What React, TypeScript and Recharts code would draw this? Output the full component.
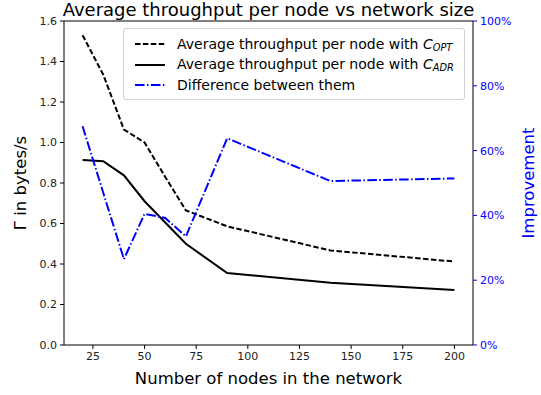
import React from 'react';
import {
  LineChart,
  Line,
  XAxis,
  YAxis,
  ReferenceLine,
  Customized,
} from 'recharts';

const nodes = [20, 30, 40, 50, 60, 70, 90, 140, 200];
const throughputOpt = [1.53, 1.335, 1.064, 1.0, 0.83, 0.665, 0.586, 0.467, 0.412];
const throughputAdr = [0.914, 0.908, 0.838, 0.71, 0.605, 0.5, 0.355, 0.308, 0.272];
const improvement = [67.5, 47.0, 26.5, 40.5, 39.2, 33.5, 63.8, 50.6, 51.4];

const xTicks = [25, 50, 75, 100, 125, 150, 175, 200];
const leftTicks = [0, 0.2, 0.4, 0.6, 0.8, 1.0, 1.2, 1.4, 1.6];
const rightTicks = [0, 20, 40, 60, 80, 100];

const titleText = 'Average throughput per node vs network size';
const xLabel = 'Number of nodes in the network';
const leftLabel = 'Γ in bytes/s';
const rightLabel = 'Improvement';

const data = nodes.map((n, i) => ({
  n,
  opt: throughputOpt[i],
  adr: throughputAdr[i],
  diff: improvement[i],
}));

const FONT = '"DejaVu Sans", sans-serif';
const BLUE = '#0000ff';

const W = 541;
const H = 395;
const PLOT_LEFT = 64;
const PLOT_RIGHT = 473;
const PLOT_TOP = 21;
const PLOT_BOTTOM = 345;

const Title = () => (
  <text
    x={(PLOT_LEFT + PLOT_RIGHT) / 2}
    y={16}
    textAnchor="middle"
    fontFamily={FONT}
    fontSize={18}
    fill="#000"
  >
    {titleText}
  </text>
);

const AxisLabels = () => (
  <g fontFamily={FONT}>
    <text
      x={(PLOT_LEFT + PLOT_RIGHT) / 2}
      y={384}
      textAnchor="middle"
      fontSize={16.5}
      fill="#000"
    >
      {xLabel}
    </text>
    <text
      x={0}
      y={0}
      transform={`translate(26, ${(PLOT_TOP + PLOT_BOTTOM) / 2}) rotate(-90)`}
      textAnchor="middle"
      fontSize={16.5}
      fill="#000"
    >
      {leftLabel}
    </text>
    <text
      x={0}
      y={0}
      transform={`translate(534, ${(PLOT_TOP + PLOT_BOTTOM) / 2}) rotate(-90)`}
      textAnchor="middle"
      fontSize={16.5}
      fill={BLUE}
    >
      {rightLabel}
    </text>
  </g>
);

const Sub = ({ s }: { s: string }) => (
  <span style={{ fontStyle: 'italic' }}>
    C
    <span style={{ fontSize: '0.7em', verticalAlign: '-0.25em' }}>{s}</span>
  </span>
);

const legendRows = [
  { label: <>Average throughput per node with <Sub s="OPT" /></>, color: '#000', dash: '5.5 2.4' },
  { label: <>Average throughput per node with <Sub s="ADR" /></>, color: '#000', dash: undefined },
  { label: <>Difference between them</>, color: BLUE, dash: '9.6 2.4 1.5 2.4' },
];

const LegendBox = () => (
  <div
    style={{
      position: 'absolute',
      left: 123,
      top: 28,
      width: 342,
      height: 72,
      background: 'rgba(255,255,255,0.8)',
      border: '1px solid #d0d0d0',
      borderRadius: 3,
      boxSizing: 'border-box',
      padding: '5px 0 0 11px',
      fontFamily: FONT,
      fontSize: 14,
      color: '#000',
    }}
  >
    {legendRows.map((r, i) => (
      <div key={i} style={{ display: 'flex', alignItems: 'center', height: 20.5 }}>
        <svg width={30} height={10} style={{ marginRight: 12 }}>
          <line x1={0} y1={5} x2={30} y2={5} stroke={r.color} strokeWidth={2} strokeDasharray={r.dash} />
        </svg>
        <span style={{ whiteSpace: 'nowrap' }}>{r.label}</span>
      </div>
    ))}
  </div>
);

export default function App() {
  return (
    <div style={{ position: 'absolute', left: 0, top: 0, width: W, height: H, background: '#fff' }}>
      <LineChart
        width={W}
        height={H}
        data={data}
        margin={{ top: PLOT_TOP, right: W - PLOT_RIGHT - 50, bottom: H - PLOT_BOTTOM - 30, left: PLOT_LEFT - 45 }}
      >
        <XAxis
          dataKey="n"
          type="number"
          domain={[11, 209]}
          ticks={xTicks}
          allowDataOverflow
          height={30}
          tickSize={4}
          tickMargin={3}
          stroke="#000"
          tick={{ fill: '#222', fontSize: 11, fontFamily: FONT }}
          tickLine={{ stroke: '#000' }}
        />
        <YAxis
          yAxisId="left"
          domain={[0, 1.6]}
          ticks={leftTicks}
          width={45}
          tickSize={4}
          tickMargin={3}
          stroke="#000"
          tickFormatter={(v: number) => v.toFixed(1)}
          tick={{ fill: '#222', fontSize: 11, fontFamily: FONT }}
          tickLine={{ stroke: '#000' }}
        />
        <YAxis
          yAxisId="right"
          orientation="right"
          domain={[0, 100]}
          ticks={rightTicks}
          width={50}
          tickSize={4}
          tickMargin={3}
          axisLine={{ stroke: '#000' }}
          tickFormatter={(v: number) => `${v}%`}
          tick={{ fill: BLUE, fontSize: 11, fontFamily: FONT }}
          tickLine={{ stroke: BLUE }}
        />
        <ReferenceLine yAxisId="left" y={1.6} stroke="#000" strokeWidth={1} />
        <Line
          yAxisId="left"
          dataKey="opt"
          stroke="#000"
          strokeWidth={2}
          strokeDasharray="5.5 2.4"
          dot={false}
          isAnimationActive={false}
        />
        <Line
          yAxisId="left"
          dataKey="adr"
          stroke="#000"
          strokeWidth={2}
          dot={false}
          isAnimationActive={false}
        />
        <Line
          yAxisId="right"
          dataKey="diff"
          stroke={BLUE}
          strokeWidth={2}
          strokeDasharray="9.6 2.4 1.5 2.4"
          dot={false}
          isAnimationActive={false}
        />
        <Customized component={Title} />
        <Customized component={AxisLabels} />
      </LineChart>
      <LegendBox />
    </div>
  );
}
